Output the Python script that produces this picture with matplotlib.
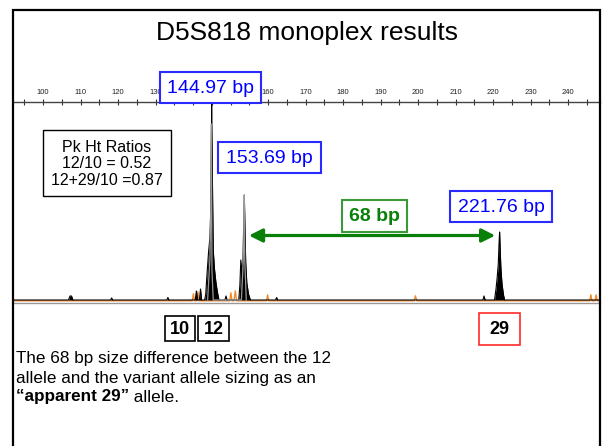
import matplotlib
matplotlib.use('Agg')
import matplotlib.pyplot as plt
from matplotlib.patches import Rectangle

plt.rcParams['font.family'] = ['Liberation Sans', 'DejaVu Sans']

# ---------------- data ----------------
tick_major = [100, 110, 120, 130, 140, 150, 160, 170, 180, 190, 200, 210, 220, 230, 240]
tick_labels = ["100", "110", "120", "130", "", "", "160", "170", "180", "190", "200", "210",
               "220", "230", "240"]  # 140 and 150 are hidden behind the 144.97 bp box
tick_minor = [95, 105, 115, 125, 135, 145, 155, 165, 175, 185, 195, 205, 215, 225, 235, 245]

# black (main dye) trace: size in bp, height in RFU
black_bp = [92.0, 100.0, 106.8, 107.2, 107.6, 108.0, 118.0, 118.3, 118.6, 133.0, 133.3, 133.6,
            140.6, 140.9, 141.2, 141.7, 142.0, 142.3,
            143.1, 143.4, 143.6, 143.85, 144.15, 144.5, 144.72, 144.85, 144.95, 144.97, 144.99,
            145.1, 145.25, 145.4, 145.7, 146.1, 146.5, 146.93,
            148.5, 148.8, 149.1,
            152.2, 152.5, 152.75, 153.0, 153.3, 153.5, 153.69, 153.85, 154.05, 154.35, 154.8, 155.3,
            162.0, 162.3, 162.6,
            217.3, 217.6, 217.9,
            220.4, 220.8, 221.1, 221.4, 221.6, 221.76, 221.9, 222.1, 222.4, 222.8, 223.1,
            248.53]
black_rfu = [0, 0, 0, 40, 40, 0, 0, 20, 0, 0, 25, 0,
             0, 90, 0, 0, 110, 0,
             0, 60, 180, 320, 480, 620, 880, 1500, 1770, 2100, 1770,
             1500, 950, 500, 320, 180, 80, 0,
             0, 40, 0,
             0, 150, 400, 280, 380, 720, 1050, 720, 380, 170, 60, 0,
             0, 25, 0,
             0, 40, 0,
             0, 110, 220, 360, 560, 680, 520, 320, 160, 50, 0,
             0]

# second (grey) trace, mostly hidden behind the black one
grey_bp = [143.9, 144.5, 144.75, 144.9, 145.05, 145.4, 152.9, 153.3, 153.55, 153.66, 153.8, 154.2]
grey_rfu = [0, 400, 900, 1760, 300, 0, 0, 300, 600, 1050, 400, 0]

# orange (size standard) trace
orange_bp = [92.0, 139.8, 140.1, 140.4, 141.0, 141.3, 141.6, 149.8, 150.1, 150.4, 150.9, 151.3, 151.6,
             159.6, 159.9, 160.2, 199.0, 199.3, 199.7, 245.8, 246.1, 246.4, 247.2, 247.5, 247.8, 248.53]
orange_rfu = [0, 0, 70, 0, 0, 90, 0, 0, 80, 0, 0, 100, 0,
              0, 60, 0, 0, 50, 0, 0, 60, 0, 0, 60, 0, 0]

peak_labels = ["144.97 bp", "153.69 bp", "221.76 bp"]
allele_labels = ["10", "12", "29"]
diff_label = "68 bp"
arrow_span = [154.9, 220.6]
arrow_height = 645

title = "D5S818 monoplex results"
ratio_lines = ["Pk Ht Ratios", "12/10 = 0.52", "12+29/10 =0.87"]
para_lines = ["The 68 bp size difference between the 12",
              "allele and the variant allele sizing as an"]
para_bold = "\u201capparent 29\u201d"
para_tail = " allele."

# ---------------- figure ----------------
W, H = 602, 446
fig = plt.figure(figsize=(W / 100, H / 100), dpi=100)
fig.patch.set_facecolor('white')


def fx(x):
    return x / W


def fy(y):
    return 1 - y / H


def box(x0, y0, x1, y1, ec, lw=1.5, z=3):
    r = Rectangle((fx(x0), fy(y1)), fx(x1) - fx(x0), fy(y0) - fy(y1),
                  transform=fig.transFigure, facecolor='white', edgecolor=ec,
                  linewidth=lw, zorder=z)
    fig.add_artist(r)


ax = fig.add_axes([fx(13), fy(303), (600 - 13) / W, (303 - 102) / H])
ax.set_xlim(92.0, 248.53)
ax.set_ylim(-30, 1980)
ax.set_facecolor('white')

ax.plot(orange_bp, [v - 8 for v in orange_rfu], color='#f28a2e', lw=1.0, zorder=2)
ax.fill_between(black_bp, 0, black_rfu, color='black', lw=0, zorder=3)
ax.plot(black_bp, black_rfu, color='black', lw=0.8, zorder=3)
ax.plot(grey_bp, grey_rfu, color='#9a9a9a', lw=0.9, zorder=4)

ax.annotate('', xy=(arrow_span[0], arrow_height), xytext=(arrow_span[1], arrow_height),
            arrowprops=dict(arrowstyle='<|-|>,head_length=0.8,head_width=0.4',
                            color='#0a800a', lw=2.3, shrinkA=0, shrinkB=0), zorder=5)

ax.set_xticks(tick_major)
ax.set_xticklabels(tick_labels)
ax.set_xticks(tick_minor, minor=True)
ax.set_yticks([])
ax.xaxis.tick_top()
ax.tick_params(axis='x', which='both', direction='inout', length=5, width=0.8,
               color='#333333', top=True, bottom=False, labeltop=True,
               labelbottom=False, labelsize=5.5, pad=1.5, labelcolor='#222222')
for s in ['left', 'right']:
    ax.spines[s].set_visible(False)
ax.spines['top'].set_color('#444444')
ax.spines['top'].set_linewidth(1.0)
ax.spines['bottom'].set_color('#999999')
ax.spines['bottom'].set_linewidth(1.0)

# outer frame
fig.add_artist(Rectangle((fx(13), fy(460)), fx(600) - fx(13), fy(10) - fy(460),
                         transform=fig.transFigure, facecolor='none', edgecolor='black',
                         linewidth=1.6, zorder=10))

# title
fig.text(fx(307), fy(33), title, ha='center', va='center', fontsize=19, color='black')

# peak size boxes
blue = '#0000ff'
for (x0, y0, x1, y1), lab in zip([(160, 72, 261, 103), (218, 142, 321, 173), (450, 191, 552, 222)],
                                 peak_labels):
    box(x0, y0, x1, y1, '#2a2aff', lw=1.5)
    fig.text(fx((x0 + x1) / 2), fy((y0 + y1) / 2 + 1), lab, ha='center', va='center',
             fontsize=14, color=blue, zorder=6)

# 68 bp box
box(342, 200, 407, 232, '#3a9a3a', lw=1.5)
fig.text(fx(374.5), fy(217), diff_label, ha='center', va='center', fontsize=14,
         fontweight='bold', color='#0a800a', zorder=6)

# ratio box
box(43, 130, 171, 196, 'black', lw=1.0)
fig.text(fx(107), fy(164), "\n".join(ratio_lines), ha='center', va='center',
         fontsize=11.5, linespacing=1.15, color='black', zorder=6)

# allele boxes
for (x0, y0, x1, y1), lab, ec in zip([(165, 316, 195, 341), (198, 316, 229, 341), (479, 313, 520, 345)],
                                     allele_labels, ['black', 'black', '#ff2a2a']):
    box(x0, y0, x1, y1, ec, lw=1.2)
    fig.text(fx((x0 + x1) / 2), fy((y0 + y1) / 2 + 1), lab, ha='center', va='center',
             fontsize=13, fontweight='bold', color='black', zorder=6)

# paragraph
ys = [359, 378, 397]
fs = 12.3
for y, line in zip(ys, para_lines):
    fig.text(fx(16), fy(y), line, ha='left', va='center', fontsize=fs, color='black')
tb = fig.text(fx(16), fy(ys[2]), para_bold, ha='left', va='center', fontsize=fs,
              fontweight='bold', color='black')
fig.canvas.draw()
ext = tb.get_window_extent()
fig.text(ext.x1 / W, fy(ys[2]), para_tail, ha='left', va='center', fontsize=fs, color='black')

fig.savefig('out.png', dpi=100)
